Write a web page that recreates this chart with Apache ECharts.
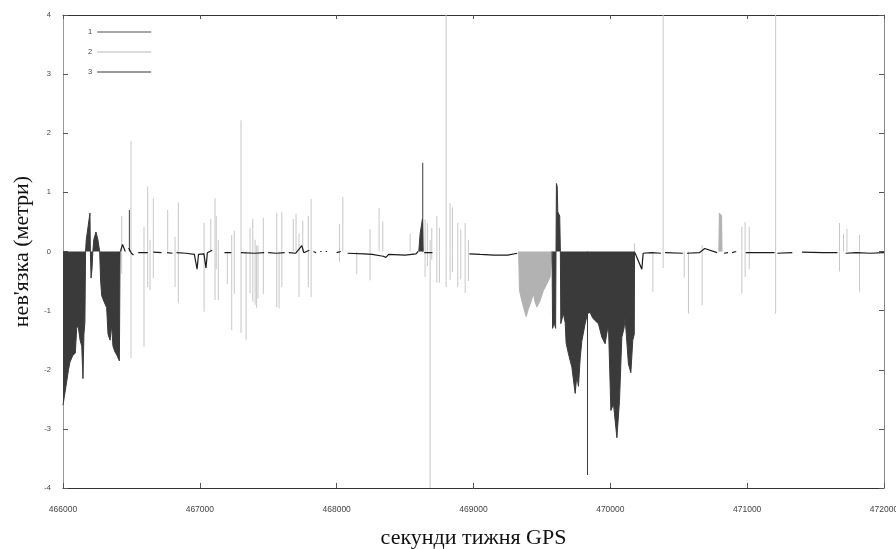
<!DOCTYPE html>
<html>
<head>
<meta charset="utf-8">
<script src="https://cdn.jsdelivr.net/npm/echarts@6/dist/echarts.min.js"></script>
<style>
  html, body { margin: 0; padding: 0; background: #fff; }
  #chart { width: 896px; height: 549px; }
</style>
</head>
<body>
<div id="chart"></div>
<script>
// ряд 1: темні суцільні ділянки [секунда, нев'язка], null = розрив
const series1Area = [
  [466000, -2.6], [466010, -2.45], [466027, -2.2], [466040, -2.0], [466051, -1.87],
  [466073, -1.75], [466090, -1.72], [466100, -1.3], [466110, -1.25], [466125, -1.5],
  [466137, -1.6], [466146, -2.15], [466153, -1.4], [466160, -1.2], [466165, 0],
  [466170, 0.2], [466185, 0.45], [466197, 0.65], [466200, 0], [466205, -0.45],
  [466212, -0.3], [466218, 0], [466225, 0.2], [466241, 0.33], [466255, 0.2],
  [466268, 0], [466275, -0.5], [466283, -0.75], [466300, -0.85], [466319, -0.95],
  [466329, -1.4], [466344, -1.5], [466356, -1.25], [466365, -1.6], [466380, -1.7],
  [466393, -1.75], [466412, -1.85], [466417, 0], null,
  [468600, 0], [468610, 0.3], [468620, 0.45], [468627, 0.55], [468632, 0], null,
  [469574, 0], [469578, -1.3], [469590, -1.2], [469600, -1.3], [469603, 0],
  [469606, 1.15], [469612, 1.1], [469616, 0.67], [469630, 0.6], [469635, 0],
  [469638, -1.22], [469657, -1.05], [469670, -1.2], [469677, -1.55], [469694, -1.73],
  [469719, -1.96], [469743, -2.4], [469755, -2.1], [469767, -2.28], [469780, -1.8],
  [469792, -1.51], [469816, -1.22], [469833, -1.05], [469852, -1.03], [469870, -1.12],
  [469889, -1.17], [469913, -1.22], [469938, -1.45], [469962, -1.56], [469986, -1.22],
  [470004, -2.69], [470023, -2.58], [470048, -3.15], [470067, -2.52], [470084, -1.45],
  [470100, -1.3], [470108, -1.12], [470132, -1.9], [470150, -2.05], [470164, -1.5],
  [470175, -1.4], [470177, 0]
];
const series1Spikes = [[466485, 0.7], [468629, 1.5], [469833, -3.78]];

// ряд 2: світлі викиди [секунда, верх, низ]
const series2Spikes = [
  [466429, 0.6, -0.37], [466497, 1.87, -1.8], [466592, 0.42, -1.61], [466619, 1.1, -0.6],
  [466636, 0.2, -0.65], [466660, 0.9, -0.45], [466765, 0.7, 0], [466819, 0.25, -0.6],
  [466843, 0.83, -0.87], [467031, 0.48, -1.02], [467080, 0.55, 0], [467111, 0.9, -0.82],
  [467120, 0.6, -0.3], [467135, 0.2, -0.82], [467201, 0, -0.55], [467233, 0.28, -1.33],
  [467252, 0.35, -0.72], [467301, 2.22, -1.38], [467338, 0, -1.5], [467367, 0.4, -0.7],
  [467387, 0.55, -0.85], [467404, 0.2, -0.9], [467415, 0.1, -0.95], [467425, 0.1, -0.8],
  [467464, 0.57, -0.72], [467562, 0.65, -0.94], [467579, 0, -0.96], [467599, 0.67, -0.6],
  [467683, 0.55, 0], [467703, 0.64, 0], [467725, 0.3, -0.77], [467752, 0.52, 0],
  [467793, 0.6, -0.6], [467813, 0.89, -0.77], [468020, 0.47, -0.18], [468045, 0.92, 0],
  [468147, 0, -0.38], [468244, 0.38, -0.49], [468310, 0.73, 0], [468337, 0.51, 0],
  [468537, 0.3, 0], [468646, 0.54, -0.43], [468663, 0.48, -0.25], [468683, 0.2, -4],
  [468695, 0.4, -0.14], [468732, 0.6, -0.53], [468751, 0.4, -0.53], [468800, 4, -0.6],
  [468829, 0.82, -0.48], [468846, 0.75, -0.35], [468885, 0.48, -0.6], [468907, 0.37, -0.47],
  [468939, 0.48, -0.7], [468963, 0.2, -0.5], [470176, 0.14, -0.55], [470311, 0, -0.69],
  [470386, 4, -0.28], [470540, 0, -0.44], [470571, 0, -1.05], [470671, 0.11, -0.91],
  [470961, 0.42, -0.71], [470985, 0.5, -0.43], [471015, 0.42, -0.3], [471208, 4, -1.05],
  [471675, 0.48, -0.34], [471704, 0.3, 0], [471729, 0.38, 0], [471821, 0.28, -0.68]
];
const series2Area = [
  [469330, 0], [469336, -0.66], [469350, -0.8], [469365, -0.94], [469385, -1.1],
  [469400, -0.98], [469414, -0.89], [469438, -0.72], [469450, -0.85], [469463, -0.94],
  [469487, -0.83], [469511, -0.66], [469536, -0.55], [469560, -0.43], [469572, -0.4],
  [469574, 0], null,
  [470793, 0], [470797, 0.65], [470805, 0.67], [470813, 0.6], [470816, 0]
];

// ряд 3: чорні відрізки біля нуля
const series3 = [
  [466420, 0], [466435, 0.12], [466448, 0.15], [466455, 0], null,
  [466480, 0.06], [466500, -0.03], [466515, -0.06], null,
  [466550, -0.02], [466620, -0.02], null,
  [466660, -0.01], [466720, -0.02], null,
  [466760, -0.02], [466800, -0.03], null,
  [466830, -0.02], [466900, -0.03], [466960, -0.05], [466980, -0.3], [466990, -0.05],
  [467030, -0.04], [467045, -0.28], [467055, -0.02], [467090, 0.02], null,
  [467180, -0.02], [467230, -0.02], null,
  [467300, -0.02], [467400, -0.03], [467470, -0.02], null,
  [467500, -0.02], [467560, -0.03], [467620, -0.02], null,
  [467650, -0.02], [467700, -0.03], [467745, 0.1], [467760, -0.02], [467800, 0.02], null,
  [467830, 0], [467850, -0.02], null, [467880, 0], [467890, 0], null, [467920, 0], [467930, 0], null,
  [468000, -0.02], [468030, 0], null,
  [468080, -0.03], [468200, -0.04], [468260, -0.05], [468340, -0.08], [468360, -0.1],
  [468380, -0.05], [468500, -0.06], [468580, -0.04], [468595, 0], null,
  [468640, -0.02], [468700, -0.02], null,
  [468970, -0.04], [469050, -0.05], [469150, -0.06], [469250, -0.06], [469320, -0.03], null,
  [470180, -0.02], [470230, -0.3], [470240, -0.03], [470300, -0.02], [470370, -0.03], null,
  [470400, -0.02], [470530, -0.03], null,
  [470560, -0.03], [470650, -0.02], [470690, 0.05], [470780, -0.02], null,
  [470830, -0.03], [470860, -0.02], null, [470890, -0.02], [470920, 0], null,
  [470990, -0.02], [471200, -0.02], null,
  [471220, -0.03], [471330, -0.02], null,
  [471400, -0.01], [471550, -0.02], [471660, -0.02], null,
  [471720, -0.03], [471800, -0.02], [471900, -0.03], [472000, -0.02]
];

const xMin = 466000, xMax = 472000, xStep = 1000;
const yMin = -4, yMax = 4, yStep = 1;

const gap = p => (p === null ? [null, null] : p);

// кожен викид — два стовпчики: вгору і вниз від нуля
const spikeBars = [];
series2Spikes.forEach(s => {
  if (s[1] !== 0) spikeBars.push([s[0], s[1]]);
  if (s[2] !== 0) spikeBars.push([s[0], s[2]]);
});

const chart = echarts.init(document.getElementById('chart'));

const tickFont = "'Liberation Sans Narrow', 'Liberation Sans', sans-serif";
const nameFont = "'Liberation Serif', 'DejaVu Serif', serif";

const option = {
  animation: false,
  backgroundColor: '#fff',
  grid: { left: 63, right: 12, top: 15, bottom: 61, outerBoundsMode: 'none' },
  legend: {
    orient: 'vertical',
    left: 83,
    top: 23,
    align: 'right',
    itemWidth: 54,
    itemHeight: 1.5,
    itemGap: 12,
    textStyle: { fontSize: 7.5, color: '#444', fontFamily: tickFont },
    data: [
      { name: '1', icon: 'rect', itemStyle: { color: '#8a8a8a' } },
      { name: '2', icon: 'rect', itemStyle: { color: '#cfcfcf' } },
      { name: '3', icon: 'rect', itemStyle: { color: '#777777' } }
    ]
  },
  xAxis: [
    {
      type: 'value', min: xMin, max: xMax, interval: xStep, position: 'bottom',
      axisLine: { show: true, onZero: false, lineStyle: { color: '#333', width: 1 } },
      axisTick: { show: true, inside: true, length: 5, lineStyle: { color: '#555' } },
      axisLabel: {
        fontSize: 8.5, color: '#444', fontFamily: tickFont, margin: 17,
        formatter: v => String(v)
      },
      splitLine: { show: false },
      name: 'секунди тижня GPS',
      nameLocation: 'middle',
      nameGap: 39,
      nameTextStyle: { fontSize: 22, color: '#111', fontFamily: nameFont }
    },
    {
      type: 'value', min: xMin, max: xMax, interval: xStep, position: 'top',
      axisLine: { show: true, onZero: false, lineStyle: { color: '#333', width: 1 } },
      axisTick: { show: true, inside: true, length: 4, lineStyle: { color: '#555' } },
      axisLabel: { show: false },
      splitLine: { show: false }
    }
  ],
  yAxis: [
    {
      type: 'value', min: yMin, max: yMax, interval: yStep, position: 'left',
      axisLine: { show: true, onZero: false, lineStyle: { color: '#999', width: 1 } },
      axisTick: { show: true, inside: true, length: 5, lineStyle: { color: '#555' } },
      axisLabel: { fontSize: 7.5, color: '#444', fontFamily: tickFont, margin: 12 },
      splitLine: { show: false },
      name: "нев'язка (метри)",
      nameLocation: 'middle',
      nameGap: 30,
      nameTextStyle: { fontSize: 22, color: '#111', fontFamily: nameFont }
    },
    {
      type: 'value', min: yMin, max: yMax, interval: yStep, position: 'right',
      axisLine: { show: true, onZero: false, lineStyle: { color: '#888', width: 1 } },
      axisTick: { show: true, inside: true, length: 5, lineStyle: { color: '#555' } },
      axisLabel: { show: false },
      splitLine: { show: false }
    }
  ],
  series: [
    {
      name: '2', type: 'bar', barWidth: 1, barGap: '-100%',
      itemStyle: { color: '#c8c8c8' },
      data: spikeBars
    },
    {
      name: '2', type: 'line', symbol: 'none', connectNulls: false,
      lineStyle: { color: '#b2b2b2', width: 1 },
      areaStyle: { color: '#b2b2b2', opacity: 1 },
      data: series2Area.map(gap)
    },
    {
      name: '1', type: 'line', symbol: 'none', connectNulls: false,
      lineStyle: { color: '#3a3a3a', width: 1 },
      areaStyle: { color: '#3a3a3a', opacity: 1 },
      data: series1Area.map(gap)
    },
    {
      name: '1', type: 'bar', barWidth: 1, barGap: '-100%',
      itemStyle: { color: '#3a3a3a' },
      data: series1Spikes
    },
    {
      name: '3', type: 'line', symbol: 'none', connectNulls: false,
      lineStyle: { color: '#1a1a1a', width: 1.2 },
      data: series3.map(gap)
    }
  ]
};

chart.setOption(option);
</script>
</body>
</html>
